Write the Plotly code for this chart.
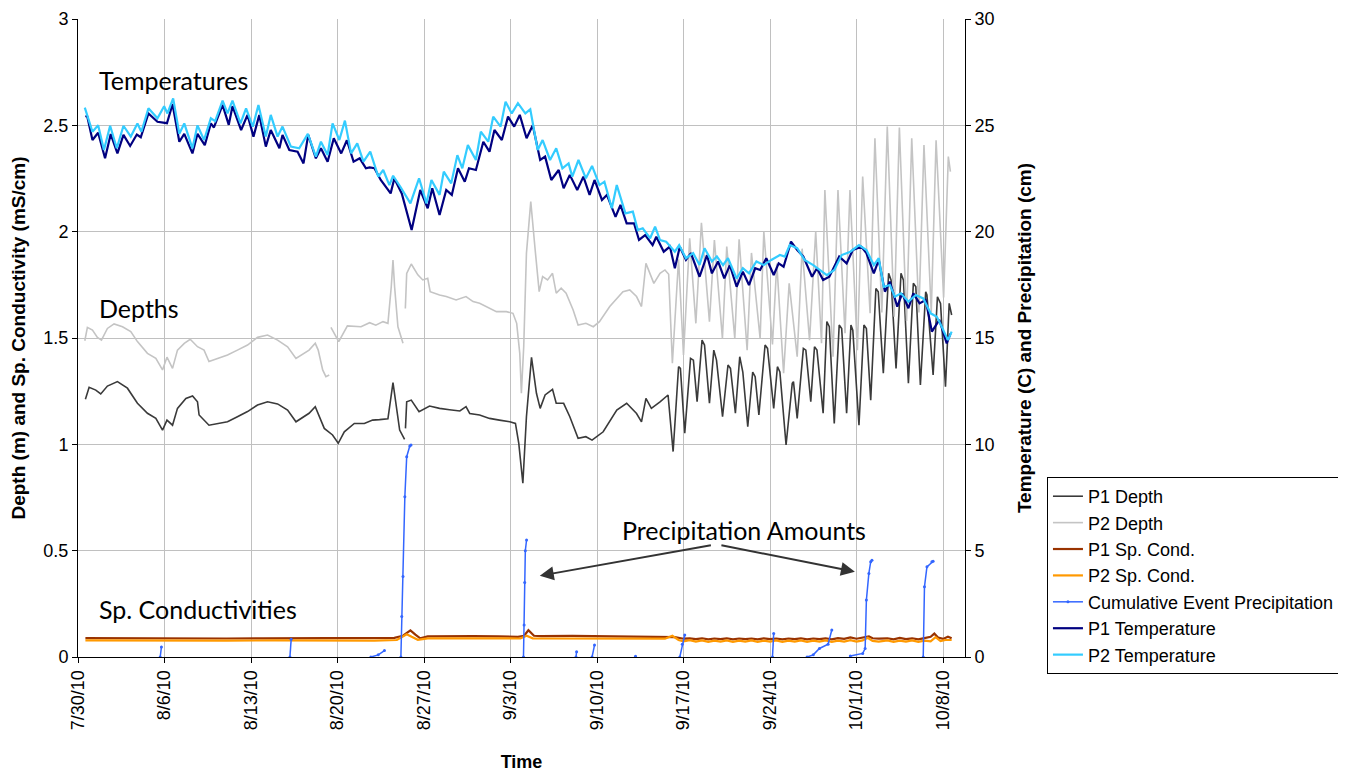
import pandas as pd
import plotly.graph_objects as go

BASE = pd.Timestamp("2010-07-30")

# ---------------- data (day offset from 7/30/10, value) ----------------
P1_DEPTH = [
    (0.6, 1.212), (0.9, 1.268), (1.44, 1.255), (1.84, 1.237), (2.38, 1.274), (3.19, 1.295), (4.0, 1.264),
    (4.81, 1.193), (5.62, 1.146), (6.3, 1.122), (6.84, 1.067), (7.2, 1.114), (7.65, 1.09), (8.05, 1.169),
    (8.73, 1.216), (9.27, 1.227), (9.67, 1.2), (9.8, 1.138), (10.6, 1.09), (11.29, 1.098), (12.1, 1.106),
    (12.9, 1.13), (13.72, 1.154), (14.53, 1.185), (15.34, 1.2), (16.15, 1.19), (16.96, 1.161), (17.64, 1.106),
    (18.3, 1.13), (18.7, 1.146), (19.2, 1.177), (19.52, 1.13), (19.93, 1.075), (20.6, 1.044), (21.06, 1.005),
    (21.55, 1.059), (22.36, 1.098), (23.17, 1.098), (23.84, 1.114), (24.4, 1.116), (25.08, 1.12), (25.49, 1.29),
    (25.76, 1.177), (26.03, 1.067), (26.43, 1.023), (26.46, None),
    (26.5, 1.075), (26.6, 1.2), (26.97, 1.208), (27.6, 1.153), (28.45, 1.18), (29.26, 1.169), (30.07, 1.163),
    (30.9, 1.157), (31.4, 1.177), (31.7, 1.145), (32.5, 1.138), (33.3, 1.122), (34.1, 1.114), (34.94, 1.106),
    (35.4, 1.098), (35.67, 1.004), (36.0, 0.817), (36.29, 1.13), (36.7, 1.409), (37.1, 1.24), (37.4, 1.169),
    (37.8, 1.232), (38.4, 1.259), (38.7, 1.193), (39.3, 1.193), (39.8, 1.13), (40.47, 1.028), (41.1, 1.036),
    (41.6, 1.02), (42.5, 1.059), (43.6, 1.161), (44.4, 1.193), (45.2, 1.145), (45.6, 1.106), (45.96, 1.216),
    (46.4, 1.169), (47.1, 1.2), (47.75, 1.232), (48.16, 0.966), (48.6, 1.365), (48.75, 1.357), (49.1, 1.052),
    (49.57, 1.404), (49.8, 1.396), (50.1, 1.201), (50.5, 1.49), (50.7, 1.467), (51.1, 1.193), (51.45, 1.443),
    (51.67, 1.396), (52.16, 1.13), (52.6, 1.373), (52.8, 1.357), (53.2, 1.146), (53.55, 1.412), (53.8, 1.34),
    (54.2, 1.083), (54.6, 1.34), (54.8, 1.318), (55.1, 1.138), (55.6, 1.467), (55.8, 1.451), (56.3, 1.169),
    (56.6, 1.365), (56.8, 1.34), (57.3, 0.997), (57.8, 1.287), (57.9, 1.295), (58.2, 1.122), (58.7, 1.451),
    (58.9, 1.443), (59.3, 1.201), (59.6, 1.459), (59.8, 1.443), (60.3, 1.146), (60.6, 1.577), (60.8, 1.553),
    (61.2, 1.098), (61.6, 1.561), (61.8, 1.545), (62.2, 1.146), (62.55, 1.561), (62.7, 1.537), (63.2, 1.09),
    (63.6, 1.561), (63.8, 1.545), (64.15, 1.208), (64.57, 1.733), (64.76, 1.717), (65.17, 1.334), (65.6, 1.804),
    (65.8, 1.772), (66.2, 1.357), (66.6, 1.804), (66.8, 1.772), (67.2, 1.287), (67.6, 1.757), (67.8, 1.741),
    (68.17, 1.279), (68.6, 1.717), (68.7, 1.702), (69.2, 1.326), (69.55, 1.694), (69.8, 1.663), (70.2, 1.271),
    (70.5, 1.663), (70.7, 1.608),
]

P2_DEPTH = [
    (0.55, 1.487), (0.76, 1.55), (1.17, 1.537), (1.57, 1.503), (1.9, 1.49), (2.38, 1.545), (2.92, 1.566),
    (3.6, 1.553), (4.27, 1.53), (4.81, 1.483), (5.62, 1.428), (6.3, 1.404), (6.84, 1.35), (7.2, 1.41),
    (7.65, 1.357), (8.05, 1.443), (8.6, 1.475), (9.08, 1.494), (9.67, 1.459), (10.2, 1.443), (10.6, 1.389),
    (11.29, 1.404), (12.1, 1.42), (12.9, 1.443), (13.72, 1.467), (14.53, 1.503), (15.34, 1.514), (16.15, 1.49),
    (16.96, 1.459), (17.64, 1.404), (18.3, 1.428), (18.7, 1.443), (19.2, 1.475), (19.44, 1.443), (19.8, 1.35),
    (20.06, 1.318), (20.33, 1.326), (20.4, None),
    (20.47, 1.55), (21.1, 1.483), (21.8, 1.557), (22.9, 1.553), (23.6, 1.572), (24.1, 1.56), (24.68, 1.577),
    (25.08, 1.569), (25.35, 1.741), (25.49, 1.867), (25.62, 1.741), (25.89, 1.553), (26.3, 1.475), (26.4, None),
    (26.49, 1.639), (26.6, 1.804), (26.97, 1.848), (27.5, 1.797), (27.9, 1.773), (28.3, 1.781), (28.5, 1.718),
    (29.26, 1.702), (29.8, 1.695), (30.6, 1.679), (31.4, 1.695), (31.97, 1.671), (32.5, 1.663), (33.05, 1.648),
    (33.86, 1.624), (34.67, 1.624), (35.2, 1.616), (35.5, 1.569), (35.75, 1.428), (35.88, 1.24), (36.07, 1.459),
    (36.29, 1.898), (36.64, 2.141), (36.97, 1.93), (37.32, 1.718), (37.6, 1.789), (38.0, 1.773), (38.4, 1.804),
    (38.7, 1.711), (39.1, 1.734), (39.5, 1.711), (40.07, 1.632), (40.47, 1.561), (41.1, 1.569), (41.7, 1.553),
    (42.2, 1.577), (43.03, 1.648), (44.1, 1.718), (44.65, 1.726), (45.2, 1.695), (45.6, 1.648), (45.96, 1.851),
    (46.3, 1.804), (46.6, 1.757), (47.1, 1.804), (47.5, 1.82), (47.8, 1.80), (48.1, 1.381), (48.6, 1.87),
    (49.0, 1.42), (49.5, 1.969), (50.0, 1.569), (50.45, 2.042), (51.1, 1.577), (51.5, 1.96), (52.15, 1.498),
    (52.5, 1.93), (53.15, 1.498), (53.5, 1.964), (54.15, 1.443), (54.5, 1.90), (55.2, 1.498), (55.5, 2.0),
    (56.2, 1.47), (56.55, 1.85), (57.1, 1.334), (57.55, 1.757), (58.2, 1.412), (58.6, 1.92), (59.2, 1.49),
    (59.7, 2.0), (60.17, 1.475), (60.44, 2.196), (61.1, 1.412), (61.5, 2.196), (62.07, 1.522), (62.47, 2.196),
    (63.07, 1.443), (63.5, 2.259), (64.1, 1.616), (64.49, 2.439), (65.05, 1.62), (65.49, 2.494), (66.05, 1.60),
    (66.47, 2.49), (67.05, 1.58), (67.47, 2.439), (68.05, 1.62), (68.46, 2.407), (69.05, 1.62), (69.44, 2.43),
    (70.05, 1.69), (70.43, 2.353), (70.6, 2.282),
]

P1_COND = [
    (0.6, 0.089), (3, 0.088), (6, 0.087), (9, 0.088), (12, 0.087), (15, 0.088), (18, 0.088), (21, 0.089),
    (24, 0.088), (25.6, 0.090), (26.3, 0.100), (26.9, 0.125), (27.3, 0.105), (27.7, 0.088), (28.3, 0.097),
    (30, 0.099), (32, 0.098), (34, 0.097), (35.6, 0.095), (36.1, 0.100), (36.45, 0.126), (36.9, 0.100),
    (37.5, 0.098), (40, 0.099), (43, 0.098), (46, 0.096), (48.3, 0.093), (49.0, 0.086), (49.5, 0.088),
    (50, 0.084), (50.5, 0.088), (51, 0.083), (51.5, 0.087), (52, 0.084), (52.5, 0.088), (53, 0.083),
    (53.5, 0.087), (54, 0.084), (54.5, 0.087), (55, 0.083), (55.5, 0.088), (56, 0.084), (56.5, 0.087),
    (57, 0.083), (57.5, 0.087), (58, 0.084), (58.5, 0.088), (59, 0.083), (59.5, 0.087), (60, 0.084),
    (60.5, 0.088), (61, 0.083), (61.5, 0.089), (62, 0.085), (62.5, 0.092), (63, 0.086), (63.5, 0.090),
    (64, 0.097), (64.3, 0.088), (64.8, 0.086), (65.5, 0.088), (66, 0.083), (66.5, 0.090), (67, 0.084),
    (67.5, 0.088), (68, 0.083), (68.5, 0.089), (69.0, 0.095), (69.3, 0.110), (69.6, 0.092), (70, 0.085),
    (70.4, 0.095), (70.7, 0.088),
]

P2_COND = [
    (0.6, 0.078), (4, 0.077), (8, 0.078), (12, 0.077), (16, 0.078), (20, 0.077), (24, 0.077), (25.8, 0.080),
    (26.6, 0.107), (27.0, 0.095), (27.5, 0.081), (28.3, 0.088), (31, 0.089), (34, 0.088), (35.8, 0.087),
    (36.3, 0.100), (36.8, 0.088), (40, 0.088), (44, 0.087), (47.5, 0.086), (48.1, 0.100), (48.6, 0.080),
    (49.0, 0.074), (49.5, 0.079), (50, 0.072), (50.5, 0.078), (51, 0.071), (51.5, 0.077), (52, 0.072),
    (52.5, 0.078), (53, 0.071), (53.5, 0.077), (54, 0.072), (54.5, 0.078), (55, 0.071), (55.5, 0.077),
    (56, 0.072), (56.5, 0.078), (57, 0.071), (57.5, 0.077), (58, 0.072), (58.5, 0.078), (59, 0.071),
    (59.5, 0.077), (60, 0.072), (60.5, 0.078), (61, 0.071), (61.5, 0.077), (62, 0.072), (62.5, 0.079),
    (63, 0.072), (63.5, 0.078), (63.9, 0.090), (64.3, 0.076), (64.8, 0.072), (65.5, 0.078), (66, 0.071),
    (66.5, 0.077), (67, 0.072), (67.5, 0.078), (68, 0.071), (68.5, 0.077), (69, 0.074), (69.4, 0.093),
    (69.8, 0.075), (70.2, 0.080), (70.7, 0.080),
]

PRECIP = [
    (6.65, 0.0), (6.75, 0.47), (6.8, None),
    (17.15, 0.0), (17.25, 0.83), (17.3, None),
    (23.7, 0.0), (24.3, 0.1), (24.8, 0.3), (24.9, None),
    (26.13, 0.0), (26.2, 1.9), (26.3, 3.78), (26.45, 7.54), (26.6, 9.42), (26.85, 9.92), (26.95, 9.97), (27.0, None),
    (36.05, 0.0), (36.1, 1.5), (36.15, 3.5), (36.2, 5.0), (36.3, 5.5), (36.4, None),
    (40.3, 0.0), (40.35, 0.25), (40.4, None),
    (41.6, 0.0), (41.8, 0.56), (41.9, None),
    (45.1, 0.0), (45.12, 0.03), (45.2, None),
    (48.7, 0.0), (48.9, 0.6), (49.1, 1.03), (49.2, None),
    (56.2, 0.0), (56.3, 1.11), (56.4, None),
    (59.0, 0.0), (59.5, 0.1), (60.0, 0.4), (60.7, 0.6), (61.0, 1.27), (61.1, None),
    (62.5, 0.05), (63.5, 0.17), (63.7, 0.4), (63.8, 2.68), (64.0, 3.93), (64.15, 4.48), (64.25, 4.55), (64.3, None),
    (68.4, 0.0), (68.5, 3.3), (68.7, 4.24), (69.1, 4.48), (69.2, 4.5),
]

P1_TEMP = [
    (0.6, 25.44), (0.75, 25.41), (1.17, 24.31), (1.63, 24.65), (2.19, 23.45), (2.65, 24.59), (3.19, 23.68),
    (3.68, 24.55), (4.22, 24.03), (4.76, 24.57), (5.08, 24.44), (5.7, 25.56), (6.43, 25.17), (6.84, 25.13),
    (7.2, 25.1), (7.65, 26.0), (8.2, 24.23), (8.6, 24.6), (9.26, 23.68), (9.67, 24.6), (10.26, 24.07),
    (10.75, 25.09), (11.0, 24.9), (11.7, 25.96), (12.2, 25.02), (12.5, 25.9), (13.2, 24.78), (13.72, 25.49),
    (14.2, 24.47), (14.67, 25.49), (15.2, 24.0), (15.6, 24.78), (16.3, 23.92), (16.55, 24.55), (17.1, 23.84),
    (17.77, 23.76), (18.25, 23.21), (18.63, 24.55), (19.25, 23.45), (19.66, 23.92), (20.2, 23.29),
    (20.7, 24.39), (21.3, 23.68), (21.76, 24.3), (22.3, 23.29), (22.8, 23.45), (23.3, 22.98), (23.6, 23.02),
    (23.99, 22.98), (24.5, 22.43), (25.3, 21.8), (25.6, 22.5), (26.2, 21.8), (27.0, 20.08), (27.7, 21.96),
    (28.3, 21.1), (28.67, 22.04), (29.26, 20.78), (29.8, 21.96), (30.25, 21.73), (30.75, 22.98), (31.3, 22.35),
    (31.64, 22.98), (32.2, 22.9), (32.8, 24.23), (33.3, 23.76), (33.7, 24.78), (34.3, 24.31), (34.8, 25.41),
    (35.3, 24.94), (35.75, 25.49), (36.3, 24.39), (36.8, 25.0), (37.4, 23.37), (37.8, 23.53), (38.3, 22.43),
    (38.9, 22.9), (39.3, 22.04), (39.8, 22.67), (40.4, 21.96), (40.9, 22.59), (41.4, 21.73), (41.8, 22.43),
    (42.4, 21.49), (42.8, 21.73), (43.5, 20.7), (43.9, 21.26), (44.4, 20.39), (45.0, 20.39), (45.4, 19.61),
    (45.9, 19.84), (46.5, 19.37), (46.8, 19.76), (47.4, 19.06), (47.9, 19.3), (48.3, 18.28), (48.7, 19.29),
    (49.2, 18.67), (49.6, 18.99), (50.3, 17.88), (50.9, 18.9), (51.3, 18.04), (51.8, 18.6), (52.3, 17.8),
    (52.75, 18.43), (53.3, 17.41), (53.8, 18.12), (54.3, 17.49), (54.8, 18.28), (55.2, 18.2), (55.7, 18.75),
    (56.3, 17.96), (56.7, 18.51), (57.1, 18.35), (57.7, 19.53), (58.2, 19.14), (58.7, 18.83), (59.4, 17.88),
    (59.8, 18.28), (60.3, 17.73), (60.8, 17.88), (61.6, 18.83), (62.2, 18.51), (62.7, 19.14), (63.4, 19.29),
    (63.8, 18.99), (64.4, 18.04), (64.8, 18.67), (65.3, 17.18), (65.7, 17.65), (66.3, 16.47), (66.7, 17.1),
    (67.2, 16.4), (67.6, 17.1), (68.1, 16.63), (68.6, 16.79), (69.1, 15.3), (69.7, 15.85), (70.3, 14.75),
    (70.6, 15.2),
]

P2_TEMP = [
    (0.55, 25.83), (1.17, 24.7), (1.63, 25.0), (2.1, 23.84), (2.6, 24.98), (3.14, 23.92), (3.68, 24.98),
    (4.27, 24.47), (4.81, 25.09), (5.13, 24.7), (5.7, 25.8), (6.43, 25.33), (6.97, 25.9), (7.24, 25.56),
    (7.7, 26.27), (8.2, 24.6), (8.6, 25.09), (9.26, 23.92), (9.67, 25.0), (10.2, 24.31), (10.75, 25.33),
    (11.1, 25.2), (11.7, 26.16), (12.1, 25.56), (12.5, 26.16), (13.15, 25.09), (13.6, 25.8), (14.15, 24.94),
    (14.6, 25.96), (15.2, 24.47), (15.6, 25.49), (16.15, 24.47), (16.55, 24.94), (17.23, 24.0), (17.9, 23.92),
    (18.6, 24.6), (19.25, 23.53), (19.66, 24.23), (20.2, 23.6), (20.6, 25.09), (21.15, 24.31), (21.6, 25.22),
    (22.1, 23.68), (22.6, 24.15), (23.1, 23.29), (23.65, 23.76), (24.3, 22.59), (24.7, 22.9), (25.2, 22.19),
    (25.5, 22.63), (26.1, 22.1), (26.9, 21.33), (27.6, 22.51), (28.2, 21.33), (28.6, 22.43), (29.26, 21.73),
    (29.6, 22.82), (30.2, 22.27), (30.7, 23.6), (31.1, 22.98), (31.55, 24.07), (32.2, 23.37), (32.6, 24.7),
    (33.2, 24.23), (33.6, 25.41), (34.2, 24.94), (34.6, 26.11), (35.1, 25.56), (35.6, 26.04), (36.2, 25.56),
    (36.6, 25.75), (37.2, 23.84), (37.6, 24.31), (38.2, 23.37), (38.7, 23.92), (39.2, 22.98), (39.7, 23.21),
    (40.0, 22.59), (40.5, 23.37), (41.1, 22.51), (41.6, 23.09), (42.2, 22.19), (42.6, 22.35), (43.2, 21.1),
    (43.6, 22.19), (44.3, 20.86), (44.9, 20.94), (45.3, 20.08), (45.7, 20.16), (46.3, 19.69), (46.7, 20.24),
    (47.1, 19.6), (47.6, 19.53), (48.3, 19.06), (48.65, 19.37), (49.2, 18.75), (49.78, 18.99), (50.3, 18.43),
    (50.7, 19.22), (51.3, 18.6), (51.7, 18.83), (52.2, 18.43), (52.6, 18.75), (53.3, 17.8), (53.8, 18.28),
    (54.3, 18.04), (54.9, 18.6), (55.5, 18.43), (56.1, 18.67), (56.8, 18.9), (57.2, 18.83), (57.6, 19.37),
    (58.2, 19.22), (58.8, 18.67), (59.5, 18.43), (60.0, 18.2), (60.6, 17.96), (61.2, 18.2), (61.8, 18.9),
    (62.5, 19.06), (63.2, 19.37), (63.8, 19.14), (64.4, 18.43), (64.8, 18.75), (65.2, 17.41), (65.7, 17.49),
    (66.1, 16.94), (66.6, 17.1), (67.2, 16.71), (67.8, 17.02), (68.4, 16.86), (69.0, 16.16), (69.5, 16.0),
    (69.9, 15.53), (70.4, 14.9), (70.7, 15.3),
]

TICK_DATES = ["2010-07-30", "2010-08-06", "2010-08-13", "2010-08-20", "2010-08-27", "2010-09-03",
              "2010-09-10", "2010-09-17", "2010-09-24", "2010-10-01", "2010-10-08"]
TICK_LABELS = ["7/30/10", "8/6/10", "8/13/10", "8/20/10", "8/27/10", "9/3/10",
               "9/10/10", "9/17/10", "9/24/10", "10/1/10", "10/8/10"]
X_END_DAYS = 71.78


def day(d):
    return BASE + pd.Timedelta(days=d)


def split(pairs):
    return [day(p[0]) for p in pairs], [p[1] for p in pairs]


FONT = "Liberation Sans, Arial, sans-serif"
LABEL_FONT = "Lato, Open Sans, sans-serif"

fig = go.Figure()

series = [
    ("P1 Depth", P1_DEPTH, "#3a3a3a", 1.6, "y"),
    ("P2 Depth", P2_DEPTH, "#c4c4c4", 1.6, "y"),
    ("P1 Sp. Cond.", P1_COND, "#993300", 2.2, "y"),
    ("P2 Sp. Cond.", P2_COND, "#ff9900", 2.2, "y"),
]
for name, data, color, w, ax in series:
    xs, ys = split(data)
    fig.add_trace(go.Scatter(x=xs, y=ys, name=name, mode="lines", yaxis=ax,
                             line=dict(color=color, width=w), connectgaps=False))

xs, ys = split(PRECIP)
fig.add_trace(go.Scatter(x=xs, y=ys, name="Cumulative Event Precipitation", mode="lines+markers",
                         yaxis="y2", line=dict(color="#3366ff", width=1.5),
                         marker=dict(color="#3366ff", size=3), connectgaps=False))

for name, data, color in [("P1 Temperature", P1_TEMP, "#000080"), ("P2 Temperature", P2_TEMP, "#33ccff")]:
    xs, ys = split(data)
    fig.add_trace(go.Scatter(x=xs, y=ys, name=name, mode="lines", yaxis="y2",
                             line=dict(color=color, width=2.2)))

axis_common = dict(showline=True, linecolor="black", linewidth=1, ticks="outside", ticklen=5,
                   tickcolor="black", automargin=False,
                   tickfont=dict(family=FONT, size=18, color="black"))

# the page body has an 8px margin, so the figure is offset by 8px on the left and top
fig.update_layout(
    width=1338, height=764,
    margin=dict(l=70, r=381, t=11, b=115),
    paper_bgcolor="white", plot_bgcolor="white",
    font=dict(family=FONT, color="black"),
    xaxis=dict(type="date", range=[day(0), day(X_END_DAYS)], tickvals=TICK_DATES, ticktext=TICK_LABELS,
               tickangle=-90, showgrid=True, gridcolor="#c0c0c0", gridwidth=1, zeroline=False,
               title=dict(text="<b>Time</b>", font=dict(family=FONT, size=18), standoff=27),
               **axis_common),
    yaxis=dict(range=[0, 3], dtick=0.5, showgrid=True, gridcolor="#c0c0c0", gridwidth=1, zeroline=False,
               title=dict(text="<b>Depth (m) and Sp. Conductivity (mS/cm)</b>", font=dict(family=FONT, size=19),
                          standoff=13),
               **axis_common),
    yaxis2=dict(range=[0, 30], dtick=5, overlaying="y", side="right", showgrid=False, zeroline=False,
                title=dict(text="<b>Temperature (C) and Precipitation (cm)</b>", font=dict(family=FONT, size=19),
                           standoff=24),
                **axis_common),
    legend=dict(xref="container", yref="container", x=0.7765, y=0.3861, xanchor="left", yanchor="top",
                bgcolor="white", bordercolor="black", borderwidth=1, font=dict(family=FONT, size=18),
                traceorder="normal", itemwidth=30),
    showlegend=True,
)

# text labels
LBL = dict(family=LABEL_FONT, size=25, color="black")
fig.add_annotation(x=day(1.5), y=2.713, xref="x", yref="y", text="Temperatures", showarrow=False,
                   xanchor="left", font=LBL)
fig.add_annotation(x=day(1.5), y=1.641, xref="x", yref="y", text="Depths", showarrow=False,
                   xanchor="left", font=LBL)
fig.add_annotation(x=day(1.5), y=0.226, xref="x", yref="y", text="Sp. Conductivities", showarrow=False,
                   xanchor="left", font=LBL)
fig.add_annotation(x=day(53.92), y=0.597, xref="x", yref="y", text="Precipitation Amounts", showarrow=False,
                   xanchor="center", font=LBL)
# arrows
fig.add_annotation(x=day(37.37), y=0.382, xref="x", yref="y", text="", showarrow=True,
                   ax=172.6, ay=-30.7, arrowhead=2, arrowsize=1.4, arrowwidth=2, arrowcolor="#333333",
                   standoff=0)
fig.add_annotation(x=day(62.87), y=0.401, xref="x", yref="y", text="", showarrow=True,
                   ax=-135, ay=-26.7, arrowhead=2, arrowsize=1.4, arrowwidth=2, arrowcolor="#333333",
                   standoff=0)

fig.write_html("out.html")
